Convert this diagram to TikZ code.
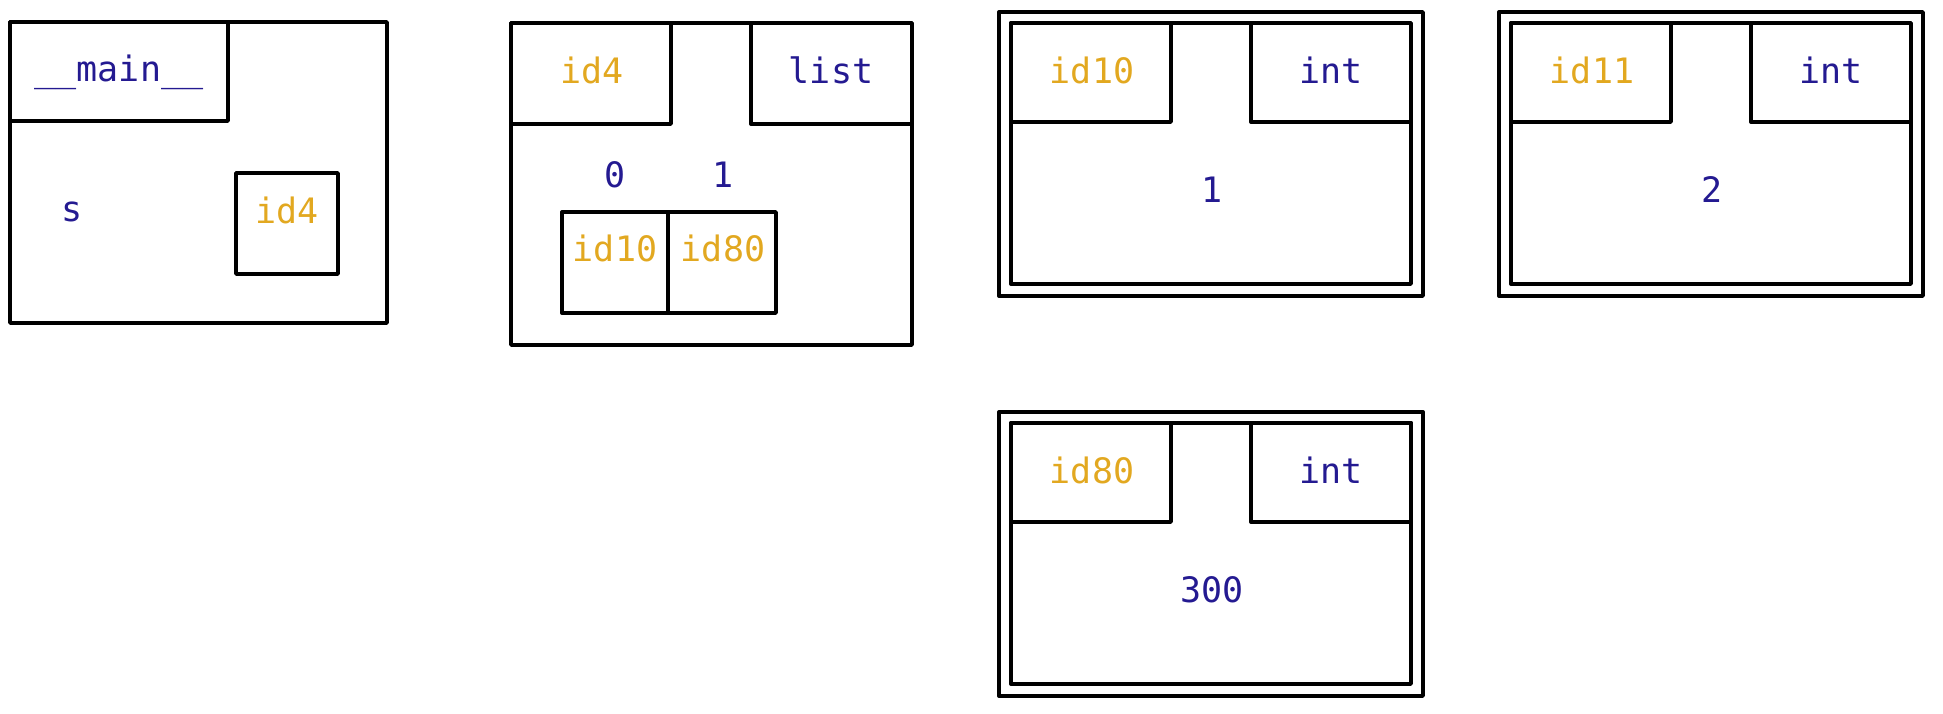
\documentclass[tikz,border=0pt]{standalone}
\usepackage{fontspec}
\setmonofont{DejaVu Sans Mono}
\usepackage{xcolor}
\definecolor{idgold}{RGB}{226, 168, 32}
\definecolor{valblue}{RGB}{36, 26, 145}

\begin{document}
\begin{tikzpicture}[x=0.5pt, y=-0.5pt, line width=1.7pt,
  frame/.style={draw=black, line join=round},
  idtxt/.style={font=\ttfamily\fontsize{17.5}{20}\selectfont, text=idgold},
  valtxt/.style={font=\ttfamily\fontsize{17.5}{20}\selectfont, text=valblue}]
  \useasboundingbox (0,0) rectangle (1943,713);

  % __main__ 帧
  \draw[frame] (10,22) rectangle (387,323);
  \draw[frame] (10,22) rectangle (228,121);
  \draw[frame] (236,173) rectangle (338,274);
  \node[valtxt] (mainname) at (119,72) {\_\_main\_\_};
  \node[valtxt] (vars) at (72,212) {s};
  \node[idtxt] (sref) at (287,210) {id4};

  % list 对象 id4
  \draw[frame] (511,23) rectangle (912,345);
  \draw[frame] (511,23) rectangle (671,124);
  \draw[frame] (751,23) rectangle (912,124);
  \draw[frame] (562,212) rectangle (668,313);
  \draw[frame] (668,212) rectangle (776,313);
  \node[idtxt] (lstid) at (592,70) {id4};
  \node[valtxt] (lsttype) at (831,70) {list};
  \node[valtxt] (idx0) at (615,175) {0};
  \node[valtxt] (idx1) at (723,175) {1};
  \node[idtxt] (elem0) at (615,248) {id10};
  \node[idtxt] (elem1) at (723,248) {id80};

  % int 对象：双线框
  \foreach \ox/\oy/\oid/\oval in {999/12/id10/1, 1499/12/id11/2, 999/412/id80/300}{
    \draw[frame] (\ox,\oy) rectangle ++(424,284);
    \draw[frame] (\ox+12,\oy+11) rectangle ++(400,261);
    \draw[frame] (\ox+12,\oy+11) rectangle ++(160,99);
    \draw[frame] (\ox+252,\oy+11) rectangle ++(160,99);
    \node[idtxt] (\oid-id) at (\ox+93,\oy+58) {\oid};
    \node[valtxt] (\oid-type) at (\ox+332,\oy+58) {int};
    \node[valtxt] (\oid-val) at (\ox+213,\oy+178) {\oval};
  }
\end{tikzpicture}
\end{document}
